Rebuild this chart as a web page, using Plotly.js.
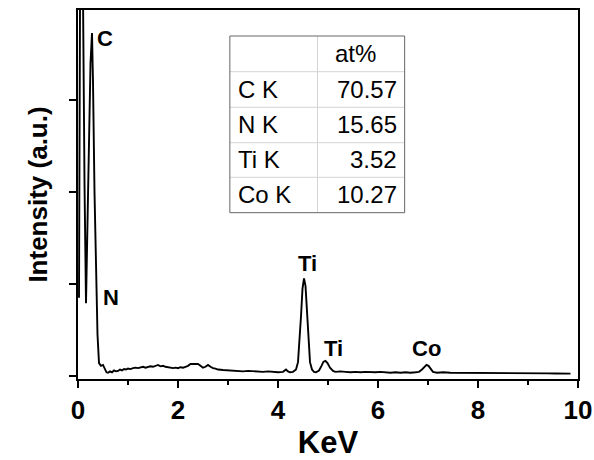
<!DOCTYPE html>
<html>
<head>
<meta charset="utf-8">
<script src="https://cdn.plot.ly/plotly-3.0.1.min.js"></script>
<style>html,body{margin:0;padding:0;background:#fff;}#chart{width:594px;height:460px;}</style>
</head>
<body>
<div id="chart"></div>
<script>
// Spectrum (energy in KeV, intensity in arbitrary units)
const energy = [0.02,0.04,0.07,0.10,0.13,0.16,0.19,0.22,0.25,0.28,0.30,0.33,0.36,0.39,0.42,0.46,0.50,0.54,0.57,0.60,0.64,0.68,0.72,0.76,0.80,0.84,0.88,0.92,0.96,1.00,1.05,1.10,1.15,1.20,1.25,1.30,1.35,1.40,1.45,1.50,1.55,1.60,1.65,1.70,1.75,1.80,1.85,1.90,1.95,2.00,2.05,2.10,2.15,2.20,2.25,2.30,2.35,2.40,2.45,2.50,2.55,2.60,2.65,2.70,2.75,2.80,2.90,3.00,3.10,3.20,3.30,3.40,3.50,3.60,3.70,3.80,3.90,4.00,4.10,4.16,4.20,4.24,4.30,4.36,4.40,4.43,4.46,4.49,4.52,4.55,4.58,4.61,4.64,4.68,4.72,4.76,4.82,4.87,4.91,4.95,4.99,5.04,5.10,5.15,5.25,5.35,5.45,5.55,5.65,5.75,5.85,5.95,6.05,6.15,6.25,6.35,6.45,6.55,6.65,6.75,6.82,6.88,6.93,6.97,7.01,7.05,7.10,7.18,7.30,7.45,7.60,7.75,7.90,8.05,8.20,8.35,8.50,8.65,8.80,8.95,9.10,9.25,9.40,9.55,9.70,9.85,10.00];
const intensity = [0.85,4.00,6.20,4.00,2.10,0.79,1.70,2.70,3.40,3.73,3.20,2.00,1.00,0.45,0.14,0.11,0.12,0.07,0.04,0.035,0.05,0.04,0.06,0.05,0.055,0.07,0.06,0.075,0.07,0.08,0.075,0.085,0.09,0.085,0.095,0.10,0.09,0.10,0.105,0.10,0.11,0.12,0.105,0.11,0.10,0.095,0.09,0.085,0.09,0.085,0.095,0.09,0.10,0.11,0.13,0.13,0.125,0.13,0.11,0.09,0.10,0.12,0.10,0.085,0.08,0.07,0.065,0.06,0.06,0.055,0.05,0.055,0.05,0.05,0.045,0.05,0.045,0.04,0.045,0.07,0.05,0.04,0.045,0.07,0.15,0.35,0.65,0.95,1.06,0.98,0.70,0.40,0.15,0.07,0.045,0.04,0.06,0.11,0.155,0.165,0.14,0.09,0.055,0.045,0.05,0.045,0.04,0.045,0.04,0.045,0.04,0.04,0.045,0.04,0.035,0.04,0.035,0.04,0.035,0.04,0.045,0.07,0.105,0.12,0.11,0.075,0.045,0.035,0.04,0.035,0.035,0.03,0.035,0.03,0.035,0.03,0.03,0.035,0.03,0.03,0.028,0.03,0.028,0.026,0.025,0.025];

// Peak labels
const peakLabels = ["C","N","Ti","Ti","Co"];
const peakLabelX = [0.53,0.65,4.58,5.10,6.97];
const peakLabelY = [3.67,0.85,1.22,0.30,0.30];

// Inset table
const tableHeader = "at%";
const tableElements = ["C K","N K","Ti K","Co K"];
const tableValues = ["70.57","15.65","3.52","10.27"];

const FONT = "Liberation Sans, Arial, sans-serif";

const trace = {
  x: energy, y: intensity, type: "scatter", mode: "lines",
  line: {color: "#000", width: 1.9}, hoverinfo: "skip"
};

// Table geometry (paper coordinates)
const tL = 0.3037, tR = 0.6533, tM = 0.479;
const rowY = [0.9295, 0.8328, 0.7363, 0.6404, 0.5466, 0.4507];

const shapes = [];
for (let i = 1; i < rowY.length - 1; i++) {
  shapes.push({type:"line", xref:"paper", yref:"paper", x0:tL, x1:tR, y0:rowY[i], y1:rowY[i], line:{color:"#d4d4d4", width:1}});
}
shapes.push({type:"line", xref:"paper", yref:"paper", x0:tM, x1:tM, y0:rowY[0], y1:rowY[5], line:{color:"#d4d4d4", width:1}});
shapes.push({type:"rect", xref:"paper", yref:"paper", x0:tL, x1:tR, y0:rowY[5], y1:rowY[0], line:{color:"#666", width:1}, fillcolor:"rgba(0,0,0,0)"});

const annotations = [];
for (let i = 0; i < peakLabels.length; i++) {
  annotations.push({x: peakLabelX[i], y: peakLabelY[i], xref:"x", yref:"y", text: peakLabels[i], showarrow:false,
    font:{family:FONT, size:22, color:"#000", weight:"bold"}});
}
annotations.push({x: tM + 0.03, y: (rowY[0]+rowY[1])/2, xref:"paper", yref:"paper", text: tableHeader, showarrow:false,
  xanchor:"left", yanchor:"middle", font:{family:FONT, size:24, color:"#000"}});
for (let i = 0; i < tableElements.length; i++) {
  const yc = (rowY[i+1] + rowY[i+2]) / 2;
  annotations.push({x: tL + 0.012, y: yc, xref:"paper", yref:"paper", text: tableElements[i], showarrow:false,
    xanchor:"left", yanchor:"middle", font:{family:FONT, size:24, color:"#000"}});
  annotations.push({x: tR - 0.012, y: yc, xref:"paper", yref:"paper", text: tableValues[i], showarrow:false,
    xanchor:"right", yanchor:"middle", font:{family:FONT, size:24, color:"#000"}});
}

const layout = {
  width: 594, height: 460,
  margin: {l: 78, r: 16, t: 10, b: 81},
  paper_bgcolor: "#fff", plot_bgcolor: "#fff",
  showlegend: false,
  font: {family: FONT, color: "#000"},
  xaxis: {
    range: [0, 10], tickmode: "linear", tick0: 0, dtick: 2,
    ticks: "outside", ticklen: 7, tickwidth: 2, tickcolor: "#000",
    minor: {dtick: 1, ticks: "outside", ticklen: 4, tickwidth: 2, tickcolor: "#000"},
    showline: true, linewidth: 2, linecolor: "#000", mirror: true,
    showgrid: false, zeroline: false,
    tickfont: {family: FONT, size: 26, color: "#000", weight: "bold"},
    title: {text: "KeV", font: {family: FONT, size: 31, color: "#000", weight: "bold"}, standoff: 8}
  },
  yaxis: {
    range: [-0.033, 3.98], tickmode: "array", tickvals: [0,1,2,3,4], showticklabels: false,
    ticks: "outside", ticklen: 7, tickwidth: 2, tickcolor: "#000",
    showline: true, linewidth: 2, linecolor: "#000", mirror: true,
    showgrid: false, zeroline: false,
    title: {text: "Intensity (a.u.)", font: {family: FONT, size: 26, color: "#000", weight: "bold"}, standoff: 14}
  },
  shapes: shapes,
  annotations: annotations
};

Plotly.newPlot("chart", [trace], layout, {staticPlot: true, displayModeBar: false});
</script>
</body>
</html>
